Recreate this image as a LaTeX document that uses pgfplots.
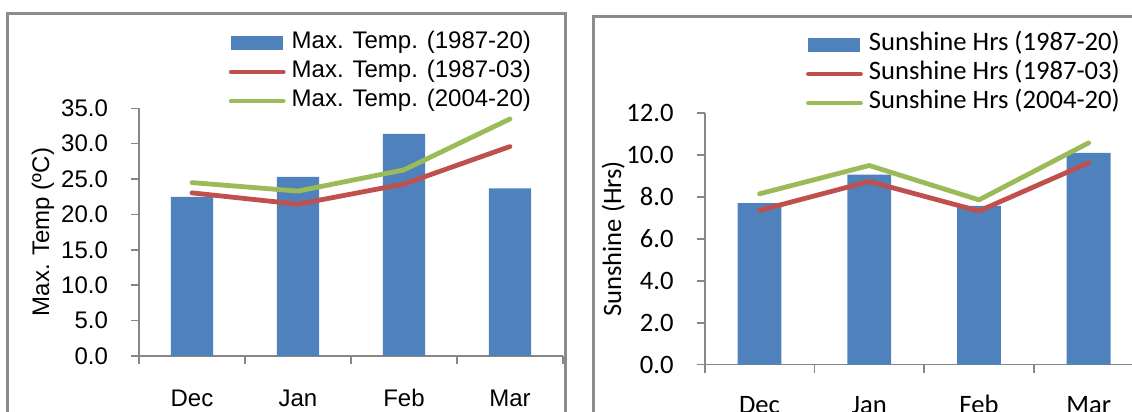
\documentclass[border=0pt]{standalone}
\usepackage{pgfplots}
\pgfplotsset{compat=1.18}
\usepackage{fontspec}
\setmainfont{Liberation Sans}
\newfontfamily\calibri{Carlito}
\definecolor{barblue}{HTML}{4F81BD}
\definecolor{linered}{HTML}{C0504D}
\definecolor{linegreen}{HTML}{9BBB59}
\definecolor{axisgray}{HTML}{868686}
\definecolor{boxgray}{HTML}{8C8C8C}
\newcommand\lf{\fontsize{12}{14}\selectfont}
\newcommand\rf{\calibri\fontsize{13.3}{15}\selectfont}
\pgfplotsset{
  excelstyle/.style={
    scale only axis,
    axis lines=left, axis line style={-, draw=axisgray, line width=0.8pt},
    xmin=-0.5, xmax=3.5, ymin=0,
    xtick={0,1,2,3}, xticklabels={Dec,Jan,Feb,Mar},
    minor xtick={-0.5,0.5,1.5,2.5,3.5},
    major x tick style={draw=none},
    tick align=outside, major tick length=4pt, minor tick length=4pt,
    tick style={axisgray, line width=0.8pt},
    yticklabel style={xshift=-8pt, /pgf/number format/fixed, /pgf/number format/fixed zerofill, /pgf/number format/precision=1, /pgf/number format/assume math mode=true},
    legend cell align=left,
    legend style={draw=none, fill=none, anchor=north west, inner sep=0pt, outer sep=0pt,
      row sep=0pt, column sep=3pt,
      nodes={inner sep=0pt, text height=10pt, text depth=4.5pt}},
  },
  barleg/.style={legend image code/.code={\fill[barblue] (0pt,-3.5pt) rectangle (26pt,3.5pt);}},
  lineleg/.style={legend image code/.code={\draw[##1] (0pt,0pt) -- (26pt,0pt);}},
}
\begin{document}
\begin{tikzpicture}
\useasboundingbox (0,0) rectangle (566pt,206pt);
\clip (0,0) rectangle (566pt,206pt);
\draw[boxgray, line width=1.2pt] (3.75pt,-5pt) rectangle (282.75pt,199.25pt);
\draw[boxgray, line width=1.2pt] (296.75pt,-5pt) rectangle (580pt,197.75pt);
\begin{axis}[excelstyle,
  at={(69.5pt,28pt)}, anchor=south west,
  width=212pt, height=123.85pt,
  ymax=35, ytick={0,5,...,35},
  font=\lf,
  xticklabel style={anchor=base, yshift=-21.5pt},
  ylabel={Max. Temp (ºC)},
  every axis y label/.style={at={(axis description cs:-0.2264,0.5)}, rotate=90, anchor=center},
  legend style={at={(axis description cs:0.212,1.322)}, font=\lf},
]
\addplot[ybar, bar width=0.4, fill=barblue, draw=none, barleg] coordinates {(0,22.5) (1,25.3) (2,31.4) (3,23.7)};
\addlegendentry{Max. Temp. (1987-20)}
\addplot[linered, line width=2.4pt, line cap=round, line join=round, lineleg] coordinates {(0,23.05) (1,21.45) (2,24.3) (3,29.6)};
\addlegendentry{Max. Temp. (1987-03)}
\addplot[linegreen, line width=2.4pt, line cap=round, line join=round, lineleg] coordinates {(0,24.5) (1,23.3) (2,26.3) (3,33.5)};
\addlegendentry{Max. Temp. (2004-20)}
\end{axis}
\begin{axis}[excelstyle,
  at={(352.35pt,23.65pt)}, anchor=south west,
  width=219.4pt, height=125.8pt,
  ymax=12, ytick={0,2,...,12},
  font=\rf,
  xticklabel style={anchor=base, yshift=-20.25pt},
  ylabel={Sunshine (Hrs)},
  every axis y label/.style={at={(axis description cs:-0.2083,0.5)}, rotate=90, anchor=center},
  legend style={at={(axis description cs:0.2310,1.328)}, font=\rf},
]
\addplot[ybar, bar width=0.4, fill=barblue, draw=none, barleg] coordinates {(0,7.71) (1,9.07) (2,7.57) (3,10.1)};
\addlegendentry{Sunshine Hrs (1987-20)}
\addplot[linered, line width=2.4pt, line cap=round, line join=round, lineleg] coordinates {(0,7.36) (1,8.74) (2,7.33) (3,9.63)};
\addlegendentry{Sunshine Hrs (1987-03)}
\addplot[linegreen, line width=2.4pt, line cap=round, line join=round, lineleg] coordinates {(0,8.15) (1,9.5) (2,7.86) (3,10.58)};
\addlegendentry{Sunshine Hrs (2004-20)}
\end{axis}
\end{tikzpicture}
\end{document}
